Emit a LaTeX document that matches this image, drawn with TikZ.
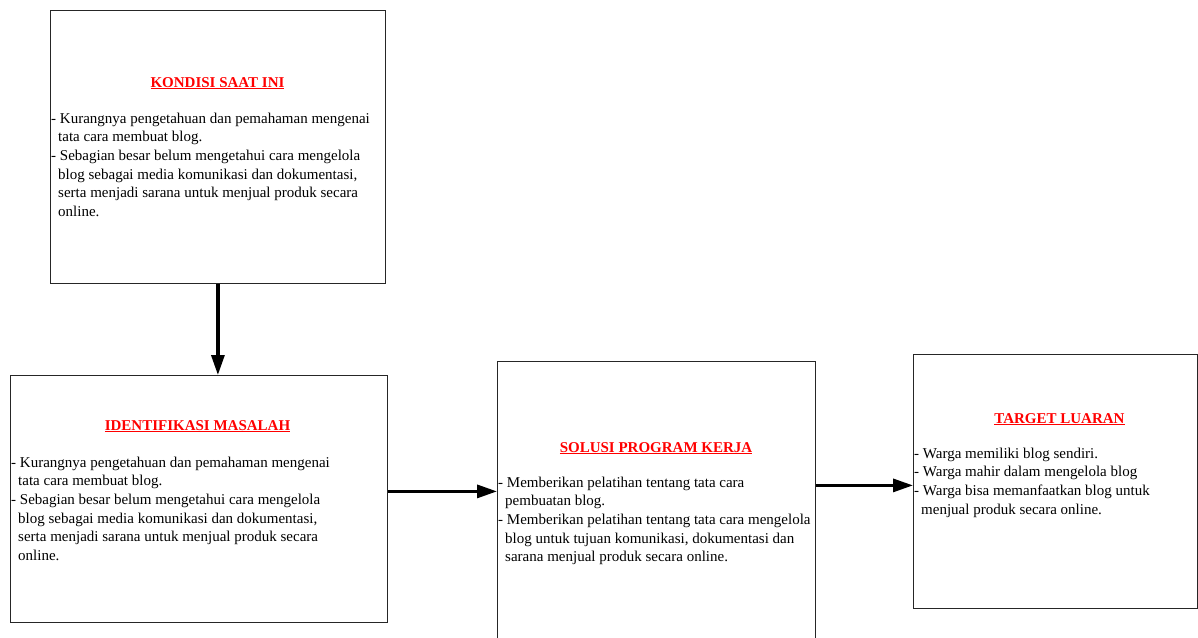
\documentclass[tikz,border=0pt]{standalone}
\usepackage{fontspec}
\setmainfont{Liberation Serif}
\usetikzlibrary{arrows.meta}
\newcommand{\sisip}{\hspace*{7pt}}

\begin{document}
\begin{tikzpicture}[x=1pt,y=-1pt,
  kotak/.style={draw=black!85, line width=0.8pt, inner sep=0pt, anchor=north west},
  judul/.style={font=\fontsize{15}{18}\selectfont\bfseries, text=red, inner sep=0pt, anchor=base},
  isi/.style={font=\fontsize{15}{18.7}\selectfont, align=left, inner sep=0pt, anchor=north west},
  panah/.style={line width=3.2pt, -{Triangle[length=20pt,width=13pt]}}]
  \useasboundingbox[fill=white] (0,0) rectangle (1198,637);

  \node[kotak, minimum width=335pt, minimum height=273pt] (kondisi) at (50,10) {};
  \node[kotak, minimum width=377pt, minimum height=247pt] (identifikasi) at (10,375) {};
  \node[kotak, minimum width=318pt, minimum height=284pt] (solusi) at (497,361) {};
  \node[kotak, minimum width=284pt, minimum height=254pt] (target) at (913,354) {};

  \node[judul] (judul1) at (217.5,87) {\underline{KONDISI SAAT INI}};
  \node[isi] (isi1) at (51,112.5) {- Kurangnya pengetahuan dan pemahaman mengenai\\
    \sisip tata cara membuat blog.\\
    - Sebagian besar belum mengetahui cara mengelola\\
    \sisip blog sebagai media komunikasi dan dokumentasi,\\
    \sisip serta menjadi sarana untuk menjual produk secara\\
    \sisip online.};

  \node[judul] (judul2) at (197.5,430) {\underline{IDENTIFIKASI MASALAH}};
  \node[isi] (isi2) at (11,456.5) {- Kurangnya pengetahuan dan pemahaman mengenai\\
    \sisip tata cara membuat blog.\\
    - Sebagian besar belum mengetahui cara mengelola\\
    \sisip blog sebagai media komunikasi dan dokumentasi,\\
    \sisip serta menjadi sarana untuk menjual produk secara\\
    \sisip online.};

  \node[judul] (judul3) at (656,452) {\underline{SOLUSI PROGRAM KERJA}};
  \node[isi] (isi3) at (498,476.5) {- Memberikan pelatihan tentang tata cara\\
    \sisip pembuatan blog.\\
    - Memberikan pelatihan tentang tata cara mengelola\\
    \sisip blog untuk tujuan komunikasi, dokumentasi dan\\
    \sisip sarana menjual produk secara online.};

  \node[judul] (judul4) at (1059.5,423) {\underline{TARGET LUARAN}};
  \node[isi] (isi4) at (914,447.5) {- Warga memiliki blog sendiri.\\
    - Warga mahir dalam mengelola blog\\
    - Warga bisa memanfaatkan blog untuk\\
    \sisip menjual produk secara online.};

  \coordinate (p2) at ([yshift=7.5pt]identifikasi.east);
  \coordinate (p3) at ([yshift=-4pt]target.west);
  \draw[panah] (kondisi.south) -- (kondisi.south |- identifikasi.north);
  \draw[panah] (p2) -- (p2 -| solusi.west);
  \draw[panah] (p3 -| solusi.east) -- (p3);
\end{tikzpicture}
\end{document}
